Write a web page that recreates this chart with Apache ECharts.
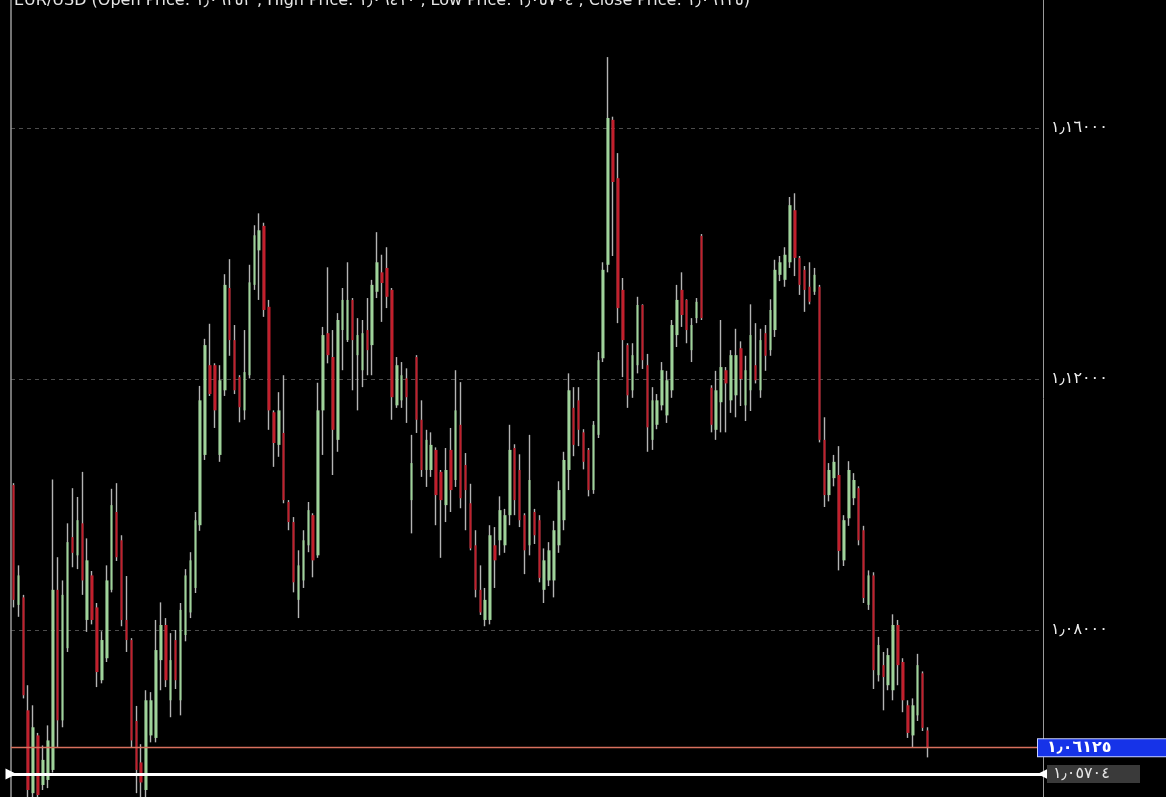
<!DOCTYPE html>
<html>
<head>
<meta charset="utf-8">
<script src="https://cdn.jsdelivr.net/npm/echarts@6/dist/echarts.min.js"></script>
<style>
html,body{margin:0;padding:0;background:#000;}
#chart{width:1166px;height:797px;}
</style>
</head>
<body>
<div id="chart"></div>
<script>
// ---- data (EUR/USD daily candles) ----
const opens = [1.1031,1.0840,1.0852,1.0672,1.0540,1.0632,1.0553,1.0561,1.0577,1.0864,1.0656,1.0771,1.0948,1.0919,1.0970,1.0816,1.0887,1.0836,1.0720,1.0755,1.0864,1.0988,1.0943,1.0816,1.0784,1.0655,1.0589,1.0545,1.0632,1.0628,1.0752,1.0808,1.0688,1.0784,1.0688,1.0792,1.0828,1.0867,1.0967,1.1079,1.1222,1.1222,1.1079,1.1182,1.1345,1.1262,1.1203,1.1150,1.1206,1.1350,1.1405,1.1444,1.1315,1.1147,1.1095,1.1114,1.1004,1.0972,1.0848,1.0879,1.0935,1.0983,1.0919,1.1150,1.1273,1.1235,1.1103,1.1278,1.1262,1.1326,1.1238,1.1214,1.1278,1.1254,1.1339,1.1370,1.1377,1.1342,1.1158,1.1166,1.1201,1.1007,1.1235,1.1135,1.1055,1.1055,1.1087,1.1052,1.0999,1.1087,1.1039,1.1127,1.1063,1.1002,1.0935,1.0864,1.0816,1.0816,1.0935,1.0943,1.0935,1.0983,1.1090,1.1055,1.0983,1.0935,1.0988,1.0975,1.0864,1.0879,1.0879,1.0935,1.0975,1.1055,1.1154,1.1166,1.1115,1.1087,1.1023,1.1111,1.1233,1.1382,1.1613,1.1520,1.1342,1.1254,1.1182,1.1222,1.1318,1.1222,1.1103,1.1127,1.1158,1.1142,1.1182,1.1270,1.1342,1.1326,1.1246,1.1297,1.1428,null,1.1186,1.1119,1.1163,1.1214,1.1166,1.1174,1.1249,1.1158,1.1182,1.1222,1.1182,1.1273,1.1246,1.1278,1.1366,1.1358,1.1386,1.1469,1.1393,1.1374,1.1347,1.1339,1.1347,1.1103,1.1015,1.1042,1.1047,1.0911,1.0978,1.1010,1.1026,1.0959,1.0840,1.0887,1.0728,1.0744,1.0712,1.0704,1.0808,1.0749,1.0680,1.0632,1.0664,1.0731,1.0640];
const closes = [1.0848,1.0887,1.0696,1.0545,1.0645,1.0537,1.0593,1.0624,1.0864,1.0656,1.0856,1.0940,1.0923,1.0975,1.0879,1.0911,1.0816,1.0733,1.0784,1.0879,1.0999,1.0916,1.0816,1.0784,1.0624,1.0577,1.0557,1.0688,1.0688,1.0768,1.0808,1.0720,1.0752,1.0720,1.0832,1.0887,1.0911,1.0975,1.1166,1.1254,1.1176,1.1150,1.1198,1.1350,1.1262,1.1182,1.1155,1.1211,1.1354,1.1429,1.1437,1.1310,1.1150,1.1098,1.1150,1.1007,1.0972,1.0876,1.0903,1.0943,1.0991,1.0911,1.1150,1.1270,1.1238,1.1119,1.1294,1.1326,1.1326,1.1262,1.1270,1.1273,1.1246,1.1350,1.1386,1.1353,1.1331,1.1171,1.1222,1.1206,1.1171,1.1066,1.1135,1.1055,1.1103,1.1095,1.1015,1.1007,1.1055,1.1023,1.1150,1.1010,1.1023,1.0930,1.0864,1.0828,1.0848,1.0951,1.0911,1.0991,1.0983,1.1087,1.1007,1.0975,1.0927,1.1039,1.0951,1.0883,1.0911,1.0927,1.0959,1.1023,1.1071,1.1182,1.1095,1.1119,1.1068,1.1023,1.1127,1.1230,1.1374,1.1616,1.1514,1.1313,1.1262,1.1174,1.1238,1.1318,1.1230,1.1123,1.1166,1.1166,1.1214,1.1198,1.1286,1.1326,1.1302,1.1278,1.1286,1.1323,1.1297,null,1.1127,1.1182,1.1219,1.1193,1.1238,1.1238,1.1200,1.1214,1.1270,1.1198,1.1262,1.1237,1.1310,1.1374,1.1386,1.1398,1.1477,1.1393,1.1350,1.1342,1.1323,1.1366,1.1103,1.1015,1.1055,1.1068,1.0926,1.0975,1.1055,1.1039,1.0943,1.0851,1.0887,1.0736,1.0776,1.0725,1.0760,1.0808,1.0744,1.0688,1.0636,1.0680,1.0744,1.0644,1.06125];
const lows = [1.0836,1.0821,1.0691,1.0525,1.0530,1.0525,1.0545,1.0548,1.0573,1.0613,1.0645,1.0765,1.0900,1.0897,1.0856,1.0797,1.0809,1.0709,1.0715,1.0749,1.0860,1.0910,1.0806,1.0765,1.0612,1.0540,1.0525,1.0530,1.0621,1.0621,1.0704,1.0709,1.0661,1.0706,1.0664,1.0782,1.0819,1.0859,1.0958,1.1071,1.1173,1.1122,1.1068,1.1173,1.1237,1.1176,1.1131,1.1135,1.1201,1.1342,1.1326,1.1299,1.1119,1.1060,1.1076,1.1002,1.0959,1.0860,1.0819,1.0867,1.0924,1.0884,1.0915,1.1079,1.1225,1.1047,1.1084,1.1214,1.1259,1.1182,1.1150,1.1187,1.1206,1.1206,1.1329,1.1291,1.1313,1.1135,1.1154,1.1154,1.1130,1.0954,1.1114,1.1044,1.1028,1.1044,1.0967,1.0915,1.0972,1.0988,1.1028,1.0994,1.0959,1.0927,1.0852,1.0824,1.0806,1.0809,1.0867,1.0919,1.0923,1.0967,1.0983,1.0964,1.0889,1.0919,1.0937,1.0876,1.0843,1.0870,1.0852,1.0923,1.0959,1.1023,1.1077,1.1093,1.1056,1.1013,1.1017,1.1106,1.1227,1.1370,1.1396,1.1289,1.1203,1.1154,1.1170,1.1209,1.1216,1.1084,1.1087,1.1120,1.1150,1.1130,1.1170,1.1251,1.1283,1.1257,1.1227,1.1289,1.1294,null,1.1115,1.1103,1.1115,1.1115,1.1146,1.1139,1.1157,1.1133,1.1149,1.1193,1.1170,1.1213,1.1237,1.1267,1.1356,1.1347,1.1377,1.1364,1.1334,1.1307,1.1319,1.1334,1.1099,1.0996,1.1005,1.1029,1.0895,1.0902,1.0966,1.0999,1.0935,1.0843,1.0832,1.0706,1.0718,1.0672,1.0704,1.0688,1.0712,1.0669,1.0628,1.0613,1.0655,1.0639,1.0597];
const highs = [1.1034,1.0903,1.0856,1.0712,1.0680,1.0636,1.0616,1.0648,1.1040,1.0916,1.0879,1.0970,1.1026,1.1012,1.1052,1.0946,1.0894,1.0843,1.0798,1.0903,1.1025,1.1034,1.0951,1.0886,1.0787,1.0679,1.0618,1.0704,1.0701,1.0816,1.0844,1.0819,1.0795,1.0800,1.0843,1.0897,1.0924,1.0988,1.1189,1.1264,1.1288,1.1225,1.1222,1.1367,1.1391,1.1286,1.1206,1.1278,1.1382,1.1445,1.1464,1.1449,1.1326,1.1150,1.1179,1.1206,1.1007,1.0980,1.0927,1.0959,1.1004,1.0986,1.1194,1.1283,1.1378,1.1278,1.1305,1.1345,1.1386,1.1329,1.1297,1.1294,1.1329,1.1358,1.1434,1.1398,1.1410,1.1345,1.1235,1.1227,1.1217,1.1111,1.1238,1.1166,1.1119,1.1115,1.1091,1.1055,1.1090,1.1122,1.1214,1.1195,1.1082,1.1033,1.0959,1.0903,1.0867,1.0967,1.0964,1.1013,1.0993,1.1127,1.1096,1.1080,1.0986,1.1111,1.0993,1.0983,1.0930,1.0940,1.0974,1.1037,1.1084,1.1209,1.1187,1.1187,1.1120,1.1090,1.1133,1.1243,1.1386,1.1713,1.1618,1.1560,1.1361,1.1257,1.1257,1.1331,1.1319,1.1240,1.1187,1.1176,1.1227,1.1213,1.1294,1.1350,1.1370,1.1327,1.1297,1.1329,1.1431,null,1.1190,1.1213,1.1294,1.1219,1.1246,1.1280,1.1260,1.1237,1.1319,1.1289,1.1280,1.1286,1.1327,1.1390,1.1396,1.1410,1.1490,1.1496,1.1396,1.1380,1.1386,1.1377,1.1350,1.1139,1.1066,1.1079,1.1093,1.0983,1.1069,1.1050,1.1029,1.0966,1.0895,1.0892,1.0789,1.0765,1.0771,1.0825,1.0816,1.0755,1.0688,1.0691,1.0762,1.0734,1.0645];
const yTicks = [1.08, 1.12, 1.16];
const yMin = 1.053386, yMax = 1.180398;
const lastPrice = 1.06125;
const markerPrice = 1.05704;
const titleText = 'EUR/USD (Open Price: ١٫٠٦٢٥٣ , High Price: ١٫٠٦٤١٠ , Low Price: ١٫٠٥٧٠٤ , Close Price: ١٫٠٦١٢٥)';
const emptySlots = 23;

// ---- helpers ----
const AR = '٠١٢٣٤٥٦٧٨٩';
const toAr = s => String(s).replace(/[0-9]/g, d => AR[+d]).replace('.', '٫');

const n = opens.length;
const categories = [];
for (let i = 0; i < n + emptySlots; i++) categories.push('d' + i);

const wickData = opens.map((o, i) => o == null ? '-' : [o, closes[i], lows[i], highs[i]]);
const bodyData = opens.map((o, i) => o == null ? '-' :
  [o, closes[i], Math.min(o, closes[i]), Math.max(o, closes[i])]);

const GREEN = '#9fd39a', RED = '#c21f2c', GRAY = '#b4b4b4';
const tri = 'path://M0,0 L10,0 L5,10 Z';

const chart = echarts.init(document.getElementById('chart'));
chart.setOption({
  backgroundColor: '#000',
  animation: false,
  graphic: [{
    type: 'text', x: 14, y: -7, silent: true,
    style: { text: titleText, fill: '#e6e6e6', font: '16px "DejaVu Sans"', textVerticalAlign: 'top' }
  }],
  grid: { left: 11, right: 123, top: 0, bottom: 0 },
  xAxis: { type: 'category', data: categories, show: false, boundaryGap: true },
  yAxis: [
    {
      type: 'value', position: 'right', min: yMin, max: yMax,
      axisLine: { show: true, lineStyle: { color: '#9a9a9a', width: 1 } },
      axisTick: { show: false, customValues: yTicks },
      axisLabel: {
        customValues: yTicks,
        color: '#ececec', fontSize: 16, fontFamily: 'DejaVu Sans', margin: 8,
        formatter: v => toAr(Number(v).toFixed(5))
      },
      splitLine: { show: true, lineStyle: { color: '#4c4c4c', type: [4, 4], width: 1 } }
    },
    {
      type: 'value', position: 'left', min: yMin, max: yMax,
      axisLine: { show: true, lineStyle: { color: '#9a9a9a', width: 1.5 } },
      axisTick: { show: false }, axisLabel: { show: false }, splitLine: { show: false }
    }
  ],
  series: [
    {
      name: 'wick', type: 'candlestick', data: wickData, barWidth: 1, yAxisIndex: 0,
      itemStyle: { color: GRAY, color0: GRAY, borderColor: GRAY, borderColor0: GRAY, borderWidth: 1.4 },
      silent: true,
      markLine: {
        silent: true, symbol: ['none', 'none'], precision: 5,
        lineStyle: { color: '#d8705e', width: 1.3, type: 'solid' },
        data: [{
          yAxis: lastPrice,
          lineStyle: { color: '#d8705e', width: 1.3, type: 'solid' },
          label: {
            show: true, position: 'end', distance: -5,
            formatter: toAr(lastPrice.toFixed(5)),
            color: '#fff', fontSize: 16, fontWeight: 'bold', fontFamily: 'DejaVu Sans',
            backgroundColor: '#1633e8', borderColor: '#c8d0ff', borderWidth: 1,
            width: 111, align: 'left', padding: [1, 8, 0, 9]
          }
        }]
      }
    },
    {
      name: 'body', type: 'candlestick', data: bodyData, barWidth: 3, yAxisIndex: 0,
      itemStyle: { color: GREEN, color0: RED, borderColor: GREEN, borderColor0: RED, borderWidth: 0 },
      silent: true,
      markLine: {
        silent: true, symbol: [tri, tri], symbolSize: 11, precision: 5,
        data: [{
          yAxis: markerPrice,
          lineStyle: { color: '#ffffff', width: 3, type: 'solid' },
          label: {
            show: true, position: 'end', distance: 4,
            formatter: toAr(markerPrice.toFixed(5)),
            color: '#e6e6e6', fontSize: 16, fontFamily: 'DejaVu Sans',
            backgroundColor: '#3a3a3a', width: 80, align: 'left', padding: [1, 7, 1, 6]
          }
        }]
      }
    }
  ]
});
</script>
</body>
</html>
